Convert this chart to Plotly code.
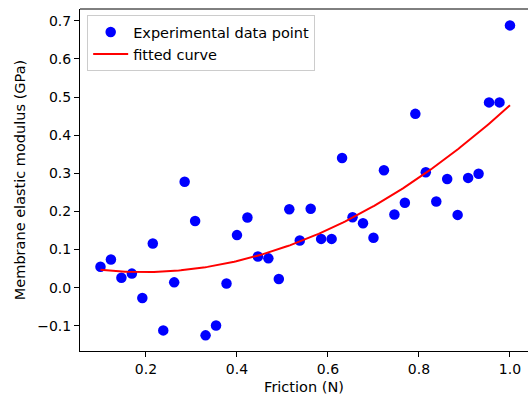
import numpy as np
import plotly.graph_objects as go

friction = [0.1, 0.123, 0.146, 0.169, 0.192, 0.215, 0.238, 0.262, 0.285, 0.308,
            0.331, 0.354, 0.377, 0.4, 0.423, 0.446, 0.469, 0.492, 0.515, 0.538,
            0.562, 0.585, 0.608, 0.631, 0.654, 0.677, 0.7, 0.723, 0.746, 0.769,
            0.792, 0.815, 0.838, 0.862, 0.885, 0.908, 0.931, 0.954, 0.977, 1.0]
modulus = [0.055, 0.074, 0.026, 0.037, -0.027, 0.116, -0.112, 0.014, 0.278, 0.175,
           -0.125, -0.099, 0.011, 0.138, 0.184, 0.082, 0.077, 0.023, 0.206, 0.124,
           0.207, 0.128, 0.128, 0.340, 0.185, 0.169, 0.131, 0.308, 0.192, 0.223,
           0.456, 0.303, 0.226, 0.285, 0.191, 0.288, 0.299, 0.486, 0.486, 0.688]

coef = np.polyfit(friction, modulus, 2)
xfit = np.linspace(min(friction), max(friction), 200)
yfit = np.polyval(coef, xfit)

font = dict(family="DejaVu Sans", size=14.5, color="black")
tickfont = dict(family="DejaVu Sans", size=14, color="black")
legfont = dict(family="DejaVu Sans", size=14.5, color="black")

fig = go.Figure()
fig.add_trace(go.Scatter(x=friction, y=modulus, mode="markers",
                         marker=dict(color="blue", size=10.5, line=dict(width=0)),
                         name="Experimental data point"))
fig.add_trace(go.Scatter(x=xfit, y=yfit, mode="lines",
                         line=dict(color="red", width=2), name="fitted curve"))

fig.update_layout(
    width=528, height=396,
    margin=dict(l=80, r=0, t=9, b=45),
    plot_bgcolor="white", paper_bgcolor="white",
    font=font,
    showlegend=True,
    legend=dict(x=0.016, y=0.982, xanchor="left", yanchor="top",
                bgcolor="rgba(255,255,255,0.8)", bordercolor="#cccccc", borderwidth=1,
                font=legfont, tracegroupgap=0, itemwidth=35),
    xaxis=dict(range=[0.055, 0.055 + 448 / 455], showgrid=False, zeroline=False,
               automargin=False,
               showline=True, linecolor="black", linewidth=1,
               ticks="outside", ticklen=5, tickcolor="black", tickfont=tickfont,
               tickvals=[0.2, 0.4, 0.6, 0.8, 1.0], ticktext=["0.2", "0.4", "0.6", "0.8", "1.0"],
               title=dict(text="Friction (N)", font=font, standoff=6)),
    yaxis=dict(range=[-0.166, 0.731], showgrid=False, zeroline=False,
               automargin=False,
               showline=True, linecolor="black", linewidth=1,
               ticks="outside", ticklen=5, tickcolor="black", tickfont=tickfont,
               tickvals=[-0.1, 0, 0.1, 0.2, 0.3, 0.4, 0.5, 0.6, 0.7],
               ticktext=["\u22120.1", "0.0", "0.1", "0.2", "0.3", "0.4", "0.5", "0.6", "0.7"],
               title=dict(text="Membrane elastic modulus (GPa)", font=font, standoff=8)),
    shapes=[dict(type="line", xref="paper", yref="paper", x0=0, x1=1.01, y0=1, y1=1,
                 line=dict(color="black", width=1))],
)

fig.write_html("out.html", config={"displayModeBar": False},
               post_script="document.body.style.margin='0';document.body.style.overflow='hidden';")
